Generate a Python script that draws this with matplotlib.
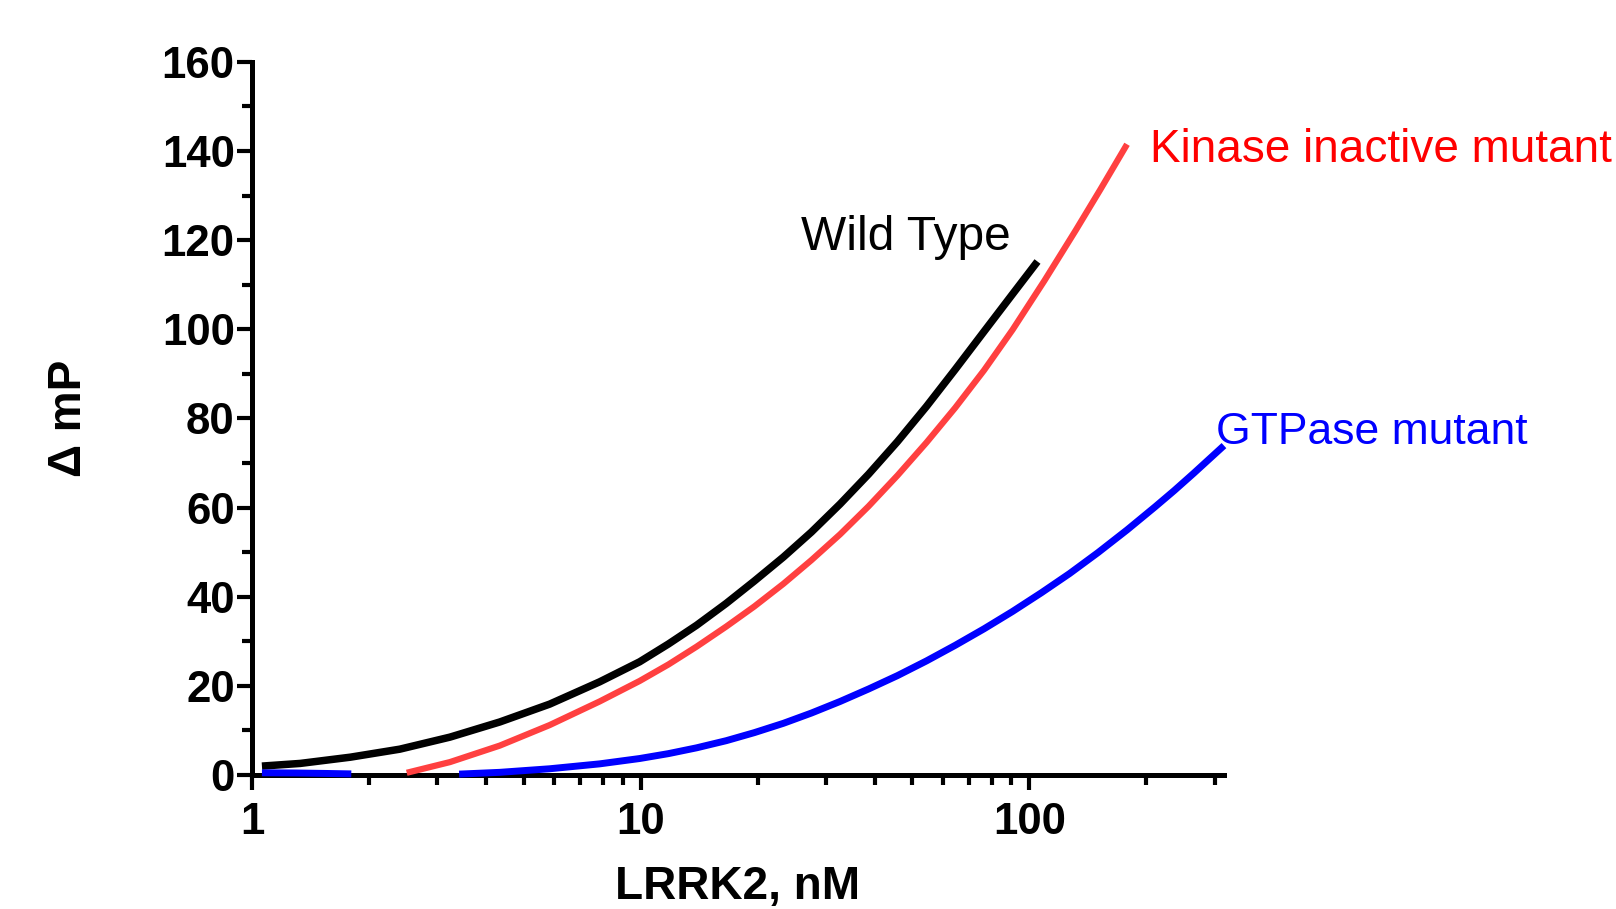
import matplotlib.pyplot as plt
from matplotlib.ticker import FixedLocator, NullFormatter

plt.rcParams["font.family"] = ["Liberation Sans", "DejaVu Sans"]

# values (x in nM, y in delta mP)
wt_x = [1.06, 1.33, 1.79, 2.40, 3.23, 4.34, 5.83, 7.84, 9.94, 11.79, 13.93,
        16.6, 19.6, 23.3, 27.5, 32.6, 38.6, 45.8, 54.4, 64.5, 76.5, 90.6, 105]
wt_y = [2.0, 2.6, 4.0, 5.8, 8.5, 11.9, 15.9, 20.9, 25.4, 29.4, 33.6,
        38.5, 43.5, 48.9, 54.5, 60.8, 67.5, 74.8, 82.7, 91.0, 99.5, 107.9, 115.2]

kin_x = [2.50, 3.23, 4.34, 5.83, 7.84, 9.94, 11.79, 13.93, 16.6, 19.6, 23.3,
         27.5, 32.6, 38.6, 45.8, 54.4, 64.5, 76.5, 90.6, 109.4, 131.7, 152.5, 178.5]
kin_y = [0.5, 2.9, 6.6, 11.2, 16.5, 21.1, 24.8, 28.8, 33.3, 37.8, 42.9,
         48.2, 54.0, 60.3, 67.2, 74.6, 82.4, 90.8, 99.9, 110.9, 122.2, 131.4, 141.5]

gtp_low_x = [1.06, 1.30, 1.55, 1.80]
gtp_low_y = [0.5, 0.45, 0.35, 0.25]
gtp_x = [3.41, 4.34, 5.83, 7.84, 9.94, 11.79, 13.93, 16.6, 19.6, 23.3, 27.5,
         32.6, 38.6, 45.8, 54.4, 64.5, 76.5, 90.6, 107.5, 127, 150.3, 178.6,
         211, 236, 265, 317]
gtp_y = [0.2, 0.6, 1.4, 2.5, 3.7, 4.8, 6.1, 7.7, 9.5, 11.6, 13.9,
         16.5, 19.3, 22.3, 25.6, 29.1, 32.8, 36.7, 40.9, 45.2, 49.9, 55.0,
         60.2, 63.8, 67.7, 73.9]

y_ticks = [0, 20, 40, 60, 80, 100, 120, 140, 160]
x_ticks = [1, 10, 100]
x_minor = [2, 3, 4, 5, 6, 7, 8, 9, 20, 30, 40, 50, 60, 70, 80, 90, 200, 300]

fig = plt.figure(figsize=(16.16, 9.09), dpi=100)
ax = fig.add_axes([0.156, 0.1474, 0.6014, 0.7846])

red_line = "#ff4040"
ax.plot(wt_x, wt_y, color="black", lw=5.4, solid_capstyle="butt",
        solid_joinstyle="round", zorder=3, clip_on=False)
ax.plot(kin_x, kin_y, color=red_line, lw=4.5, solid_capstyle="butt",
        solid_joinstyle="round", zorder=3, clip_on=False)
ax.plot(gtp_low_x, gtp_low_y, color="#0000ff", lw=5.0, solid_capstyle="butt",
        zorder=3, clip_on=False)
ax.plot(gtp_x, gtp_y, color="#0000ff", lw=5.0, solid_capstyle="butt",
        solid_joinstyle="round", zorder=3, clip_on=False)

ax.set_xscale("log")
ax.set_xlim(1, 317)
ax.set_ylim(0, 160)

ax.xaxis.set_major_locator(FixedLocator(x_ticks))
ax.set_xticklabels([str(t) for t in x_ticks])
ax.xaxis.set_minor_locator(FixedLocator(x_minor))
ax.xaxis.set_minor_formatter(NullFormatter())
ax.set_yticks(y_ticks)
ax.set_yticks(range(10, 160, 20), minor=True)

for side in ["top", "right"]:
    ax.spines[side].set_visible(False)
for side in ["left", "bottom"]:
    ax.spines[side].set_linewidth(3.6)
    ax.spines[side].set_capstyle("projecting")

ax.tick_params(which="major", length=10.5, width=3, labelsize=31.5)
ax.tick_params(which="minor", length=7, width=3)
ax.tick_params(axis="x", which="major", pad=9)
ax.tick_params(axis="y", which="major", pad=2)
for lab in ax.get_xticklabels() + ax.get_yticklabels():
    lab.set_fontweight("bold")

ax.set_xlabel("LRRK2, nM", fontsize=33, fontweight="bold", labelpad=16)
ax.set_ylabel("\u0394 mP", fontsize=33, fontweight="bold", labelpad=51)

ax.text(25.9, 117.8, "Wild Type", fontsize=34.5, color="black",
        ha="left", va="baseline", clip_on=False)
ax.text(204.8, 137.5, "Kinase inactive mutant", fontsize=33, color="#ff0000",
        ha="left", va="baseline", clip_on=False)
ax.text(302, 74.2, "GTPase mutant", fontsize=32, color="#0000ff",
        ha="left", va="baseline", clip_on=False)

fig.savefig("out.png", dpi=100)
